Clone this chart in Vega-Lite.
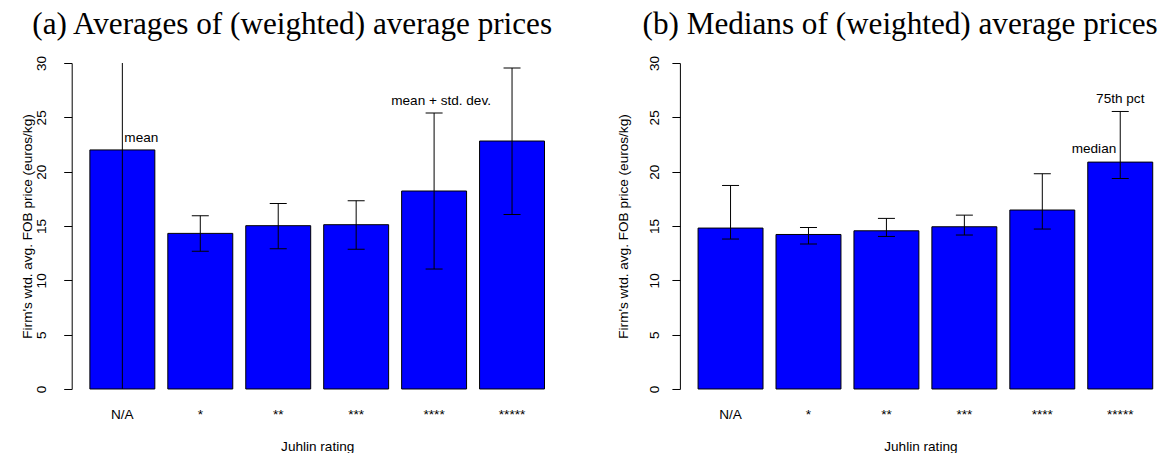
{
  "$schema": "https://vega.github.io/schema/vega-lite/v6.json",
  "padding": {"left": 20.7, "top": 9, "right": 0, "bottom": 0},
  "spacing": 54.2,
  "config": {
    "view": {"stroke": null},
    "font": "Liberation Sans",
    "axis": {
      "labelFont": "Liberation Sans",
      "titleFont": "Liberation Sans",
      "labelFontSize": 13.6,
      "titleFontSize": 13.6,
      "labelColor": "#000",
      "titleColor": "#000",
      "titleFontWeight": "normal",
      "grid": false,
      "domainColor": "#000",
      "tickColor": "#000",
      "domainWidth": 1,
      "tickWidth": 1
    },
    "title": {
      "font": "Liberation Serif",
      "fontSize": 31.2,
      "fontWeight": "normal",
      "color": "#000",
      "anchor": "start",
      "frame": "group"
    }
  },
  "datasets": {
    "avg": [
      {"rating": "N/A", "value": 22.0, "lo": -4.0, "hi": 48.0},
      {"rating": "*", "value": 14.32, "lo": 12.67, "hi": 15.95},
      {"rating": "**", "value": 15.03, "lo": 12.9, "hi": 17.08},
      {"rating": "***", "value": 15.12, "lo": 12.87, "hi": 17.33},
      {"rating": "****", "value": 18.22, "lo": 11.04, "hi": 25.4},
      {"rating": "*****", "value": 22.82, "lo": 16.06, "hi": 29.54}
    ],
    "med": [
      {"rating": "N/A", "value": 14.81, "lo": 13.8, "hi": 18.73},
      {"rating": "*", "value": 14.22, "lo": 13.34, "hi": 14.87},
      {"rating": "**", "value": 14.56, "lo": 14.04, "hi": 15.7},
      {"rating": "***", "value": 14.93, "lo": 14.17, "hi": 16.0},
      {"rating": "****", "value": 16.47, "lo": 14.72, "hi": 19.81},
      {"rating": "*****", "value": 20.88, "lo": 19.37, "hi": 25.54}
    ]
  },
  "hconcat": [
    {
      "width": 491,
      "height": 326,
      "title": {"text": "(a) Averages of (weighted) average prices", "dx": -39.4, "baseline": "alphabetic", "offset": -10},
      "data": {"name": "avg"},
      "encoding": {
        "x": {
          "field": "rating",
          "type": "nominal",
          "sort": ["N/A", "*", "**", "***", "****", "*****"],
          "scale": {"paddingInner": 0.16667, "paddingOuter": 0.23333},
          "axis": {
            "title": "Juhlin rating",
            "labelAngle": 0,
            "domain": false,
            "ticks": false,
            "tickSize": 0,
            "labelPadding": 30,
            "labelBaseline": "alphabetic",
            "titleY": 61.5,
            "titleBaseline": "alphabetic"
          }
        }
      },
      "layer": [
        {
          "mark": {"type": "bar", "fill": "#0000ff", "stroke": "#000", "strokeWidth": 1, "opacity": 1},
          "encoding": {
            "y": {
              "field": "value",
              "type": "quantitative",
              "scale": {"domain": [0, 30], "nice": false, "zero": true},
              "axis": {
                "title": "Firm's wtd. avg. FOB price (euros/kg)",
                "values": [0, 5, 10, 15, 20, 25, 30],
                "labelAngle": -90,
                "labelAlign": "center",
                "labelBaseline": "middle",
                "tickSize": 8,
                "labelPadding": 22.2,
                "titleAngle": -90,
                "titleX": -44,
                "titleY": 163,
                "titleAlign": "center",
                "titleBaseline": "middle"
              }
            }
          }
        },
        {
          "mark": {"type": "rule", "clip": true, "color": "#000", "strokeWidth": 1, "opacity": 1},
          "encoding": {"y": {"field": "lo", "type": "quantitative"}, "y2": {"field": "hi"}}
        },
        {
          "mark": {"type": "tick", "clip": true, "color": "#000", "size": 17, "thickness": 1, "opacity": 1},
          "encoding": {"y": {"field": "lo", "type": "quantitative"}}
        },
        {
          "mark": {"type": "tick", "clip": true, "color": "#000", "size": 17, "thickness": 1, "opacity": 1},
          "encoding": {"y": {"field": "hi", "type": "quantitative"}}
        },
        {
          "data": {"values": [{"rating": "N/A", "y": 23.13, "label": "mean"}]},
          "mark": {"type": "text", "align": "left", "baseline": "middle", "dx": 2, "fontSize": 13.6, "font": "Liberation Sans", "color": "#000"},
          "encoding": {"y": {"field": "y", "type": "quantitative"}, "text": {"field": "label"}}
        },
        {
          "data": {"values": [{"rating": "****", "y": 26.47, "label": "mean + std. dev."}]},
          "mark": {"type": "text", "align": "center", "baseline": "middle", "dx": 7, "fontSize": 13.6, "font": "Liberation Sans", "color": "#000"},
          "encoding": {"y": {"field": "y", "type": "quantitative"}, "text": {"field": "label"}}
        }
      ]
    },
    {
      "width": 481,
      "height": 326,
      "title": {"text": "(b) Medians of (weighted) average prices", "dx": -37.4, "baseline": "alphabetic", "offset": -10},
      "data": {"name": "med"},
      "encoding": {
        "x": {
          "field": "rating",
          "type": "nominal",
          "sort": ["N/A", "*", "**", "***", "****", "*****"],
          "scale": {"paddingInner": 0.16667, "paddingOuter": 0.169, "align": 0.69},
          "axis": {
            "title": "Juhlin rating",
            "labelAngle": 0,
            "domain": false,
            "ticks": false,
            "tickSize": 0,
            "labelPadding": 30,
            "labelBaseline": "alphabetic",
            "titleX": 240.5,
            "titleY": 61.5,
            "titleBaseline": "alphabetic"
          }
        }
      },
      "layer": [
        {
          "mark": {"type": "bar", "fill": "#0000ff", "stroke": "#000", "strokeWidth": 1, "opacity": 1},
          "encoding": {
            "y": {
              "field": "value",
              "type": "quantitative",
              "scale": {"domain": [0, 30], "nice": false, "zero": true},
              "axis": {
                "title": "Firm's wtd. avg. FOB price (euros/kg)",
                "values": [0, 5, 10, 15, 20, 25, 30],
                "labelAngle": -90,
                "labelAlign": "center",
                "labelBaseline": "middle",
                "tickSize": 8,
                "labelPadding": 17.3,
                "titleAngle": -90,
                "titleX": -56,
                "titleY": 163,
                "titleAlign": "center",
                "titleBaseline": "middle"
              }
            }
          }
        },
        {
          "mark": {"type": "rule", "clip": true, "color": "#000", "strokeWidth": 1, "opacity": 1},
          "encoding": {"y": {"field": "lo", "type": "quantitative"}, "y2": {"field": "hi"}}
        },
        {
          "mark": {"type": "tick", "clip": true, "color": "#000", "size": 17, "thickness": 1, "opacity": 1},
          "encoding": {"y": {"field": "lo", "type": "quantitative"}}
        },
        {
          "mark": {"type": "tick", "clip": true, "color": "#000", "size": 17, "thickness": 1, "opacity": 1},
          "encoding": {"y": {"field": "hi", "type": "quantitative"}}
        },
        {
          "data": {"values": [{"rating": "*****", "y": 26.65, "label": "75th pct"}]},
          "mark": {"type": "text", "align": "center", "baseline": "middle", "fontSize": 13.6, "font": "Liberation Sans", "color": "#000"},
          "encoding": {"y": {"field": "y", "type": "quantitative"}, "text": {"field": "label"}}
        },
        {
          "data": {"values": [{"rating": "*****", "y": 22.05, "label": "median"}]},
          "mark": {"type": "text", "align": "right", "baseline": "middle", "dx": -4, "fontSize": 13.6, "font": "Liberation Sans", "color": "#000"},
          "encoding": {"y": {"field": "y", "type": "quantitative"}, "text": {"field": "label"}}
        }
      ]
    }
  ]
}
